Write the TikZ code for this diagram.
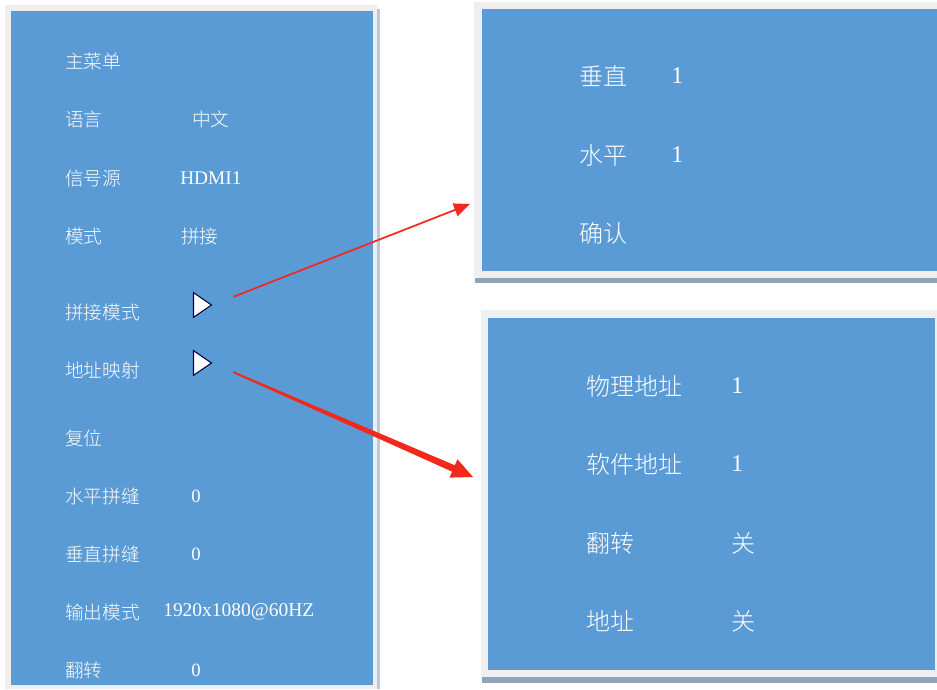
\documentclass[tikz,border=0pt]{standalone}
\usepackage{fontspec}
\setmainfont{Liberation Serif}
\newfontfamily\cjk{Noto Sans CJK SC}[UprightFont=* Light]
\usetikzlibrary{shapes.geometric,arrows.meta,calc}
\definecolor{panelblue}{HTML}{5B9BD5}
\definecolor{framegray}{HTML}{EFEFEF}
\definecolor{shadowgray}{HTML}{8FA3BA}
\definecolor{arrowred}{HTML}{F2281C}

\begin{document}
\begin{tikzpicture}[x=0.75pt, y=-0.75pt,
	menu/.style={anchor=west, inner sep=0pt, text=white, font=\fontsize{14pt}{16pt}\selectfont},
	sub/.style={anchor=west, inner sep=0pt, text=white, font=\fontsize{18pt}{20pt}\selectfont},
	play/.style={draw=black!75!blue, fill=white, line width=0.8pt, shape=isosceles triangle, isosceles triangle apex angle=69, inner sep=0pt, minimum width=9.5pt, minimum height=13.5pt},
	pointer/.style={draw=arrowred, line width=1.3pt, -{Triangle[length=12pt, width=10pt]}}]
		\useasboundingbox (0,0) rectangle (937,689);
		% Main menu panel
		\fill[framegray] (5,5) rectangle (377,689);
		\fill[shadowgray!60] (377,9) rectangle (380,689);
		\fill[panelblue] (11,11) rectangle (373,685);
		% Splice panel
		\fill[framegray] (474,2) rectangle (937,278);
		\fill[shadowgray] (475,278) rectangle (937,283);
		\fill[panelblue] (482,9) rectangle (937,271);
		% Address panel
		\fill[framegray] (481,310) rectangle (937,677);
		\fill[shadowgray] (482,677) rectangle (937,683);
		\fill[panelblue] (488,318) rectangle (935,670);
		% Main menu items
		\node[menu] (mainmenu) at (65,61) {\cjk 主菜单};
		\node[menu] (lang) at (65,119) {\cjk 语言};
		\node[menu] (langval) at (192,119) {\cjk 中文};
		\node[menu] (source) at (65,178) {\cjk 信号源};
		\node[menu] (sourceval) at (180,178) {\fontsize{14.5pt}{16pt}\selectfont HDMI1};
		\node[menu] (mode) at (65,236) {\cjk 模式};
		\node[menu] (modeval) at (181,236) {\cjk 拼接};
		\node[menu] (splice) at (65,312) {\cjk 拼接模式};
		\node[menu] (addrmap) at (65,370) {\cjk 地址映射};
		\node[menu] (reset) at (65,438) {\cjk 复位};
		\node[menu] (hgap) at (65,496) {\cjk 水平拼缝};
		\node[menu] (hgapval) at (191,496) {0};
		\node[menu] (vgap) at (65,554) {\cjk 垂直拼缝};
		\node[menu] (vgapval) at (191,554) {0};
		\node[menu] (output) at (65,612) {\cjk 输出模式};
		\node[menu] (outputval) at (163,612) {\fontsize{14.6pt}{16pt}\selectfont 1920x1080@60HZ};
		\node[menu] (flip) at (65,670) {\cjk 翻转};
		\node[menu] (flipval) at (191,670) {0};
		% Sub menu triangles
		\node[play] (tri1) at (200,305) {};
		\node[play] (tri2) at (200,363) {};
		% Splice items
		\node[sub] (vert) at (579,76) {\cjk 垂直};
		\node[sub] (vertval) at (671,76) {1};
		\node[sub] (horz) at (579,155) {\cjk 水平};
		\node[sub] (horzval) at (671,155) {1};
		\node[sub] (confirm) at (579,233) {\cjk 确认};
		% Address items
		\node[sub] (phys) at (586,386) {\cjk 物理地址};
		\node[sub] (physval) at (731,386) {1};
		\node[sub] (soft) at (586,464) {\cjk 软件地址};
		\node[sub] (softval) at (731,464) {1};
		\node[sub] (turn) at (586,543) {\cjk 翻转};
		\node[sub] (turnval) at (731,543) {\cjk 关};
		\node[sub] (addr) at (586,621) {\cjk 地址};
		\node[sub] (addrval) at (731,621) {\cjk 关};
		% Arrows
		\coordinate (tip1) at (470,204);
		\coordinate (tip2) at (473,477);
		\draw[pointer, shorten <=17pt] (tri1.east) -- (tip1);
		\coordinate (s2) at ($(tri2.east)!17pt!(tip2)$);
		\coordinate (b2) at ($(tip2)!16pt!(s2)$);
		\fill[arrowred] ($(s2)!0.7pt!90:(tip2)$) -- ($(b2)!2.6pt!-90:(s2)$) -- ($(b2)!7.5pt!-90:(s2)$) -- (tip2)
			-- ($(b2)!7.5pt!90:(s2)$) -- ($(b2)!2.6pt!90:(s2)$) -- ($(s2)!0.7pt!-90:(tip2)$) -- cycle;
	\end{tikzpicture}
\end{document}
